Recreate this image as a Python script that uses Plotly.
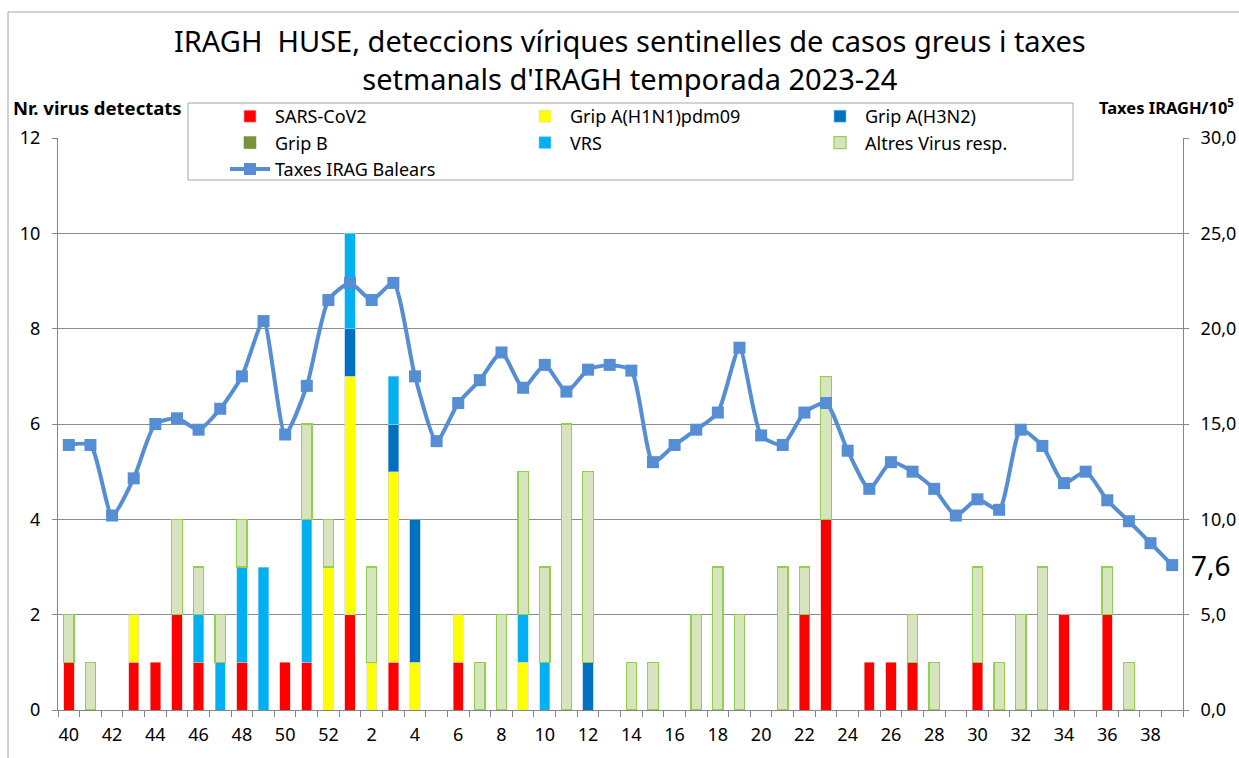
import plotly.graph_objects as go

weeks = [str(w) for w in list(range(40, 53)) + list(range(1, 40))]

sars = [1,0,0,1,1,2,1,0,1,0,1,1,0, 2,0,1,0,0,1,0,0,0,0,0,0,0,0,0,0,0,0,0,0,0,2,4,0,1,1,1,0,0,1,0,0,0,2,0,2,0,0,0]
h1n1 = [0,0,0,1,0,0,0,0,0,0,0,0,3, 5,1,4,1,0,1,0,0,1,0,0,0,0,0,0,0,0,0,0,0,0,0,0,0,0,0,0,0,0,0,0,0,0,0,0,0,0,0,0]
h3n2 = [0,0,0,0,0,0,0,0,0,0,0,0,0, 1,0,1,3,0,0,0,0,0,0,0,1,0,0,0,0,0,0,0,0,0,0,0,0,0,0,0,0,0,0,0,0,0,0,0,0,0,0,0]
gripb = [0]*52
vrs  = [0,0,0,0,0,0,1,1,2,3,0,3,0, 2,0,1,0,0,0,0,0,1,1,0,0,0,0,0,0,0,0,0,0,0,0,0,0,0,0,0,0,0,0,0,0,0,0,0,0,0,0,0]
altres = [1,1,0,0,0,2,1,1,1,0,0,2,1, 0,2,0,0,0,0,1,2,3,2,6,4,0,1,1,0,2,3,2,0,3,1,3,0,0,0,1,1,0,2,1,2,3,0,0,1,1,0,0]
taxes = [13.9,13.9,10.2,12.15,15.0,15.3,14.7,15.8,17.5,20.4,14.45,17.0,21.5,
         22.4,21.5,22.4,17.5,14.1,16.1,17.3,18.75,16.9,18.1,16.7,17.85,18.1,17.8,13.0,
         13.9,14.7,15.6,19.0,14.4,13.9,15.6,16.1,13.6,11.6,13.0,12.5,11.6,10.2,11.05,
         10.5,14.7,13.85,11.9,12.5,11.0,9.9,8.75,7.6]

series_names = ["SARS-CoV2", "Grip A(H1N1)pdm09", "Grip A(H3N2)", "Grip B", "VRS", "Altres Virus resp."]
series_vals = [sars, h1n1, h3n2, gripb, vrs, altres]
series_colors = ["#FF0000", "#FFFF00", "#0070C0", "#77933C", "#00B0F0", "#D7E4BD"]
series_lines = ["#F2B8B8", "#D9D9D9", "#9DC3E6", "#77933C", "#9DD9F3", "#92D050"]

left_ticks = [0, 2, 4, 6, 8, 10, 12]
right_ticks = [0, 5, 10, 15, 20, 25, 30]
right_ticktext = [f"{v:.1f}".replace(".", ",") for v in right_ticks]
x_ticktext = [w if i % 2 == 0 else "" for i, w in enumerate(weeks)]

FONT = "Noto Sans"
W, H = 1239, 758
ML, MR, MT, MB = 58, 56, 138, 48
PW, PH = W - ML - MR, H - MT - MB

def px_x(px):
    return (px - ML) / PW

def px_y(py):
    return (H - MB - py) / PH

fig = go.Figure()
for name, vals, col, lc in zip(series_names, series_vals, series_colors, series_lines):
    fig.add_trace(go.Bar(
        x=weeks, y=[v if v else None for v in vals], name=name,
        marker=dict(color=col, line=dict(color=lc, width=1.2 if name.startswith("Altres") else 0.6)),
        yaxis="y",
    ))

fig.add_trace(go.Scatter(
    x=weeks, y=taxes, name="Taxes IRAG Balears", yaxis="y2",
    mode="lines+markers",
    line=dict(color="#558ED5", width=4, shape="spline", smoothing=0.6),
    marker=dict(symbol="square", size=12, color="#558ED5"),
))

fig.update_layout(
    width=W, height=H,
    margin=dict(l=ML, r=MR, t=MT, b=MB, autoexpand=False),
    paper_bgcolor="white", plot_bgcolor="white",
    barmode="stack", bargap=0.52,
    font=dict(family=FONT, size=18, color="#000000"),
    xaxis=dict(
        type="category", categoryorder="array", categoryarray=weeks,
        tickmode="array", tickvals=weeks, ticktext=x_ticktext,
        ticks="outside", tickson="boundaries", ticklen=6, tickcolor="#868686",
        showline=True, linecolor="#868686", linewidth=1,
        showgrid=False, range=[-0.5, len(weeks) - 0.5],
        tickfont=dict(size=18), tickangle=0, ticklabelstandoff=8,
        automargin=False,
    ),
    yaxis=dict(
        range=[0, 12], tickmode="array", tickvals=left_ticks,
        ticks="outside", ticklen=5, tickcolor="#868686",
        showline=True, linecolor="#868686", linewidth=1,
        showgrid=True, gridcolor="#8C8C8C", gridwidth=1,
        zeroline=False, tickfont=dict(size=18), ticklabelstandoff=8,
        automargin=False,
    ),
    yaxis2=dict(
        range=[0, 30], overlaying="y", side="right",
        tickmode="array", tickvals=right_ticks, ticktext=right_ticktext,
        ticks="outside", ticklen=5, tickcolor="#868686",
        showline=True, linecolor="#868686", linewidth=1,
        showgrid=False, zeroline=False, tickfont=dict(size=18), ticklabelstandoff=8,
        automargin=False,
    ),
    legend=dict(
        orientation="h", x=px_x(225), xanchor="left", y=px_y(98), yanchor="top",
        entrywidth=240, entrywidthmode="pixels",
        borderwidth=0, bgcolor="rgba(255,255,255,0)",
        font=dict(size=18), traceorder="normal",
        tracegroupgap=0, itemwidth=40,
    ),
    showlegend=True,
)

# legend frame
fig.add_shape(
    type="rect", xref="paper", yref="paper",
    x0=px_x(188), x1=px_x(1073), y0=px_y(180), y1=px_y(103),
    line=dict(color="#A6A6A6", width=1), fillcolor="white", layer="above",
)
# chart area frame
fig.add_shape(
    type="rect", xref="paper", yref="paper",
    x0=px_x(8), x1=px_x(1300), y0=px_y(800), y1=px_y(12),
    line=dict(color="#A6A6A6", width=1), fillcolor="rgba(0,0,0,0)", layer="below",
)

fig.add_annotation(
    text="IRAGH\u00a0 HUSE, deteccions víriques sentinelles de casos greus i taxes<br>setmanals d'IRAGH temporada 2023-24",
    xref="paper", yref="paper", x=px_x(630), y=px_y(60),
    xanchor="center", yanchor="middle", showarrow=False,
    font=dict(size=29),
)
fig.add_annotation(
    text="<b>Nr. virus detectats</b>", xref="paper", yref="paper",
    x=px_x(11), y=px_y(107), xanchor="left", yanchor="middle",
    showarrow=False, font=dict(size=18.5),
)
fig.add_annotation(
    text="<b>Taxes IRAGH/10<sup>5</sup></b>", xref="paper", yref="paper",
    x=px_x(1097), y=px_y(107), xanchor="left", yanchor="middle",
    showarrow=False, font=dict(size=16.5),
)
fig.add_annotation(
    text=f"{taxes[-1]:.1f}".replace(".", ","), xref="x", yref="y2",
    x=len(weeks) - 1, y=taxes[-1], xanchor="left", yanchor="middle",
    xshift=17, showarrow=False, font=dict(size=28),
)

fig.write_html(
    "out.html",
    config={"displayModeBar": False},
    post_script="document.body.style.margin='0';document.body.style.overflow='hidden';",
)
